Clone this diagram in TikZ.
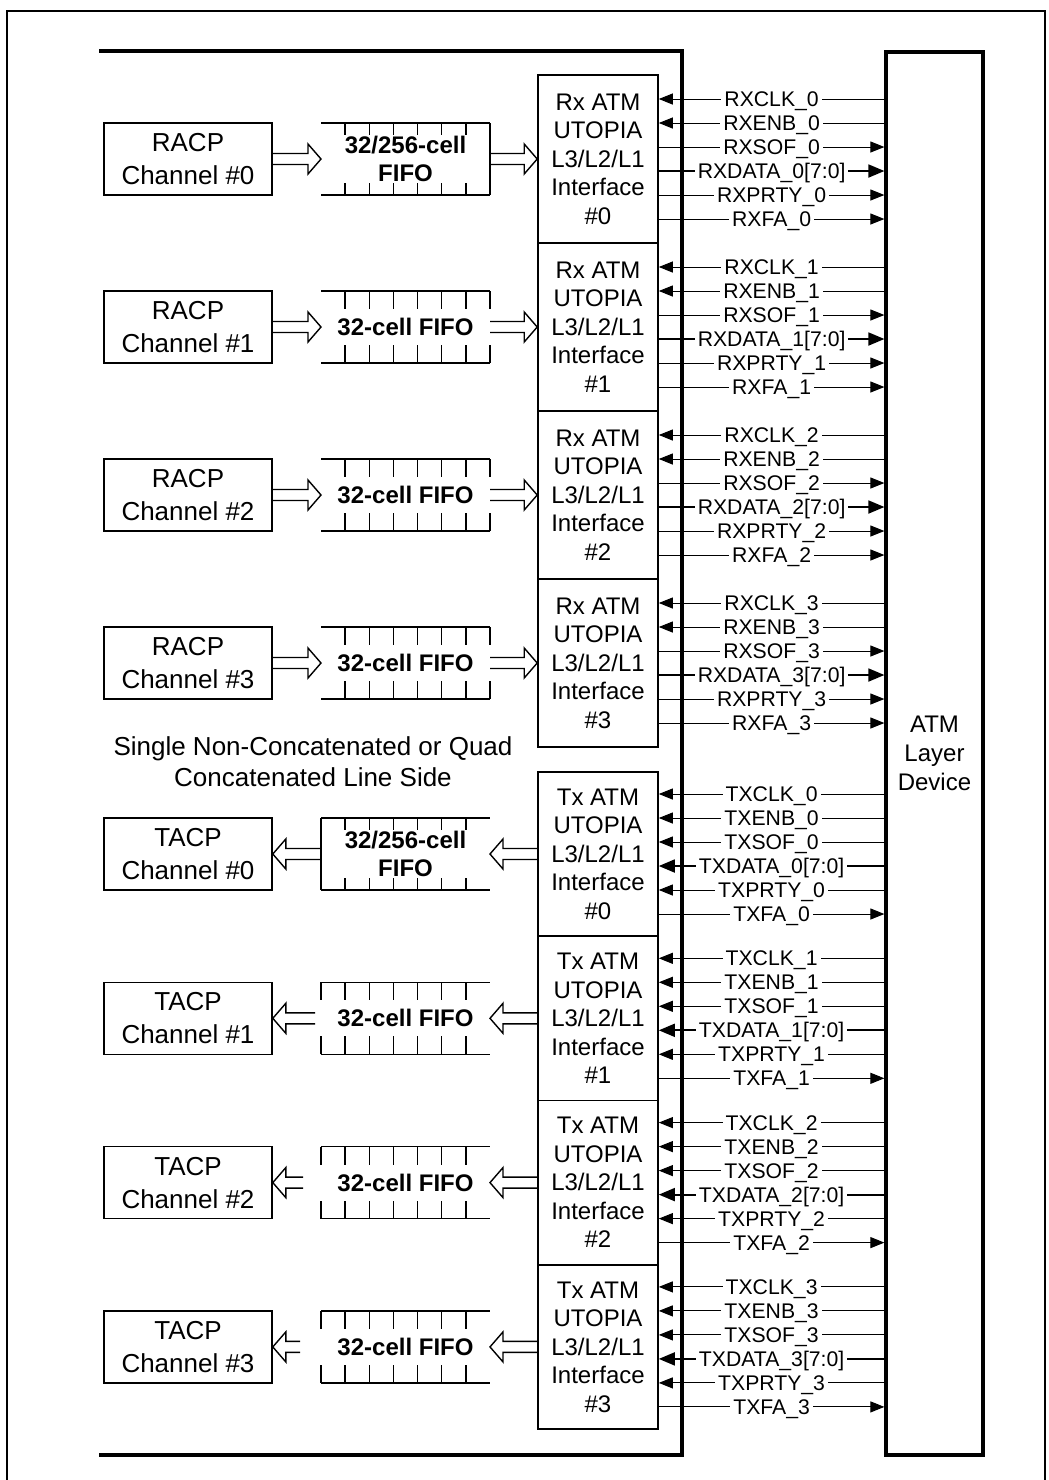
\documentclass[tikz,border=0pt]{standalone}
\usepackage{fontspec}
\setmainfont{Liberation Sans}
\usetikzlibrary{arrows.meta, calc}

\begin{document}
\begin{tikzpicture}[
  x=0.5pt, y=-0.5pt,
  >={Triangle[length=7pt, width=5.5pt]},
  acp/.style={draw, line width=0.8pt, minimum width=84pt, minimum height=36pt,
              inner sep=0pt, align=center, font=\fontsize{13}{16.5}\selectfont},
  fifo/.style={minimum width=84.5pt, minimum height=36pt, inner sep=0pt, outer sep=0pt,
               align=center, font=\fontsize{12}{14}\selectfont\bfseries},
  fifo-line/.style={line width=0.7pt},
  utopia/.style={draw, line width=0.8pt, minimum width=60pt, inner sep=0pt,
                 align=center, font=\fontsize{12}{14.25}\selectfont},
  rx-if/.style={utopia, minimum height=84pt},
  tx-if/.style={utopia, minimum height=82pt},
  sig/.style={line width=0.5pt},
  bus/.style={line width=0.9pt, >={Triangle[length=8pt, width=6.5pt]}},
  toif/.style={sig, <-},
  toatm/.style={sig, ->},
  busif/.style={bus, <-},
  busatm/.style={bus, ->},
  sig-lbl/.style={fill=white, inner xsep=1.5pt, inner ysep=1pt, text height=7.5pt,
                  text depth=0pt, font=\fontsize{10.6}{12}\selectfont},
  fat/.style={line width=0.7pt, to path={let \p1=(\tikztostart), \p2=(\tikztotarget),
      \p3=($(\tikztotarget)!6.5pt!(\tikztostart)$) in
      (\x1,\y1+2.75pt) -- (\x3,\y1+2.75pt) -- (\x3,\y1+7.5pt) -- (\x2,\y2)
      -- (\x3,\y1-7.5pt) -- (\x3,\y1-2.75pt) -- (\x1,\y1-2.75pt)}},
  chip/.style={line width=1.6pt}
]
  \useasboundingbox (0,0) rectangle (1049,1480);

  % page frame (open at the bottom) and device boundary
  \draw[line width=1pt] (7,1480) -- (7,11) -- (1045,11) -- (1045,1480);
  \draw[chip] (99,51) -- (682,51) -- (682,1455) -- (99,1455);

  \node[draw, chip, minimum width=48.5pt, minimum height=701.5pt, inner sep=0pt,
        align=center, font=\fontsize{12}{14.5}\selectfont] (atm) at (934.5,753.5)
        {ATM\\Layer\\Device};

  % receive side
  \foreach \i in {0,...,3} {
    \node[acp]   (racp\i) at (188,159+168*\i) {RACP\\Channel \#\i};
    \node[rx-if] (rxif\i) at (598,159+168*\i) {Rx ATM\\UTOPIA\\L3/L2/L1\\Interface\\\#\i};
  }
  \node[fifo] (rxfifo0) at (405.5,159) {32/256-cell\\FIFO};
  \foreach \i in {1,2,3}
    \node[fifo] (rxfifo\i) at (405.5,159+168*\i) {32-cell FIFO};

  % transmit side
  \foreach \i in {0,...,3} {
    \node[acp]   (tacp\i) at (188,854+164.3*\i) {TACP\\Channel \#\i};
    \node[tx-if] (txif\i) at (598,854+164.3*\i) {Tx ATM\\UTOPIA\\L3/L2/L1\\Interface\\\#\i};
  }
  \node[fifo] (txfifo0) at (405.5,854) {32/256-cell\\FIFO};
  \foreach \i in {1,2,3}
    \node[fifo] (txfifo\i) at (405.5,854+164.3*\i) {32-cell FIFO};

  \node[align=center, font=\fontsize{13}{15.5}\selectfont] (side) at (313,762)
    {Single Non-Concatenated or Quad\\Concatenated Line Side};

  % FIFO outlines with cell ticks
  \foreach \fname/\tk in {rxfifo0/12, rxfifo1/18, rxfifo2/18, rxfifo3/18,
                          txfifo0/12, txfifo1/18, txfifo2/18, txfifo3/18} {
    \draw[fifo-line] (\fname.north west) -- (\fname.north east)
                     (\fname.south west) -- (\fname.south east);
    \foreach \k in {1,...,6}
      \draw[fifo-line] ([xshift=\k*12.07pt]\fname.north west) -- ++(0,\tk)
                       ([xshift=\k*12.07pt]\fname.south west) -- ++(0,-\tk);
  }
  \draw[fifo-line] (rxfifo0.north east) -- (rxfifo0.south east);
  \draw[fifo-line] (txfifo0.north west) -- (txfifo0.south west);
  \foreach \i in {1,2,3} {
    \draw[fifo-line] (rxfifo\i.north east) -- ++(0,18) (rxfifo\i.south east) -- ++(0,-18);
    \draw[fifo-line] (txfifo\i.north west) -- ++(0,18) (txfifo\i.south west) -- ++(0,-18);
  }

  % data path arrows
  \foreach \i in {0,...,3} {
    \draw[fat] (racp\i.east) to (rxfifo\i.west);
    \draw[fat] (rxfifo\i.east) to (rxif\i.west);
    \draw[fat] (txif\i.west) to (txfifo\i.east);
  }
  \draw[fat] (txfifo0.west) to (tacp0.east);
  \foreach \i/\gap in {1/3, 2/9, 3/10.5} {
    \coordinate (txout\i) at ([xshift={-\gap*1pt}]txfifo\i.west);
    \draw[fat] (txout\i) to (tacp\i.east);
  }

  % UTOPIA signals to the ATM layer device
  \foreach \i in {0,...,3} {
    \foreach \sname/\sfx/\dir [count=\j from 0] in
        {CLK//toif, ENB//toif, SOF//toatm, DATA/[7:0]/busatm, PRTY//toatm, FA//toatm} {
      \coordinate (rs) at ([yshift=30pt-12pt*\j]rxif\i.east);
      \draw[\dir] (rs) -- (rs -| atm.west) node[midway, sig-lbl] {RX\sname\_\i\sfx};
    }
    \foreach \sname/\sfx/\dir [count=\j from 0] in
        {CLK//toif, ENB//toif, SOF//toif, DATA/[7:0]/busif, PRTY//toif, FA//toatm} {
      \coordinate (ts) at ([yshift=30pt-12pt*\j]txif\i.east);
      \draw[\dir] (ts) -- (ts -| atm.west) node[midway, sig-lbl] {TX\sname\_\i\sfx};
    }
  }
\end{tikzpicture}
\end{document}
